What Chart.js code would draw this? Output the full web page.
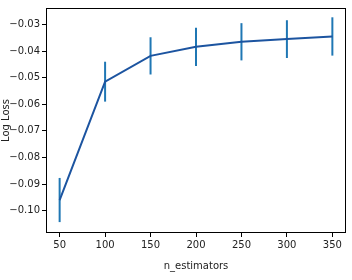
<!DOCTYPE html>
<html><head><meta charset="utf-8">
<script src="https://cdn.jsdelivr.net/npm/chart.js@4.4.1/dist/chart.umd.min.js"></script>
<style>html,body{margin:0;padding:0;background:#fff}#w{width:352px;height:280px}</style>
</head><body><div id="w"><canvas id="c"></canvas></div>
<script>
const nEstimators = [50, 100, 150, 200, 250, 300, 350];
const meanLogLoss = [-0.0960, -0.0515, -0.0418, -0.0384, -0.0365, -0.0355, -0.0345];
const stdLogLoss  = [0.0083, 0.0075, 0.0070, 0.0072, 0.0070, 0.0071, 0.0072];
const xTicks = [50, 100, 150, 200, 250, 300, 350];
const yTicks = [-0.10, -0.09, -0.08, -0.07, -0.06, -0.05, -0.04, -0.03];

const FONT = "'DejaVu Sans', sans-serif";
const errorBars = {
  id: 'errorBars',
  beforeDatasetsDraw(chart) {
    const {ctx, scales: {x, y}} = chart;
    ctx.save();
    ctx.strokeStyle = '#1f77b4';
    ctx.lineWidth = 2;
    nEstimators.forEach((n, i) => {
      const px = x.getPixelForValue(n);
      ctx.beginPath();
      ctx.moveTo(px, y.getPixelForValue(meanLogLoss[i] + stdLogLoss[i]));
      ctx.lineTo(px, y.getPixelForValue(meanLogLoss[i] - stdLogLoss[i]));
      ctx.stroke();
    });
    ctx.restore();
  },
  afterDraw(chart) {
    const {ctx, chartArea: a} = chart;
    ctx.save();
    ctx.strokeStyle = '#000';
    ctx.lineWidth = 1;
    ctx.strokeRect(a.left + 0.5, a.top + 0.5, a.right - a.left - 1, a.bottom - a.top - 1);
    ctx.restore();
  }
};

new Chart(document.getElementById('c'), {
  type: 'line',
  data: {
    datasets: [{
      data: nEstimators.map((n, i) => ({x: n, y: meanLogLoss[i]})),
      borderColor: '#1c54a0',
      borderWidth: 2,
      pointRadius: 0,
      tension: 0,
      fill: false
    }]
  },
  options: {
    responsive: true,
    maintainAspectRatio: false,
    animation: false,
    layout: {padding: {top: 5, right: 6, left: 0, bottom: 0}},
    plugins: {legend: {display: false}, tooltip: {enabled: false}},
    scales: {
      x: {
        type: 'linear', min: 35, max: 365,
        afterBuildTicks: s => { s.ticks = xTicks.map(v => ({value: v})); },
        afterFit: s => { s.height = 47; },
        grid: {drawOnChartArea: false, tickLength: 4, tickColor: '#000', color: '#000'},
        border: {display: false},
        ticks: {color: '#222', font: {family: FONT, size: 10}, padding: 2, maxRotation: 0},
        title: {display: true, text: 'n_estimators', color: '#222', font: {family: FONT, size: 10}, padding: {top: 4, bottom: 8}}
      },
      y: {
        type: 'linear', min: -0.1084, max: -0.0238,
        afterBuildTicks: s => { s.ticks = yTicks.map(v => ({value: v})); },
        afterFit: s => { s.width = 46; },
        grid: {drawOnChartArea: false, tickLength: 4, tickColor: '#000', color: '#000'},
        border: {display: false},
        ticks: {color: '#222', font: {family: FONT, size: 10}, padding: 2,
          callback: v => '\u2212' + Math.abs(v).toFixed(2)},
        title: {display: true, text: 'Log Loss', color: '#222', font: {family: FONT, size: 10}, padding: {top: 0, bottom: 0}}
      }
    }
  },
  plugins: [errorBars]
});
</script></body></html>
